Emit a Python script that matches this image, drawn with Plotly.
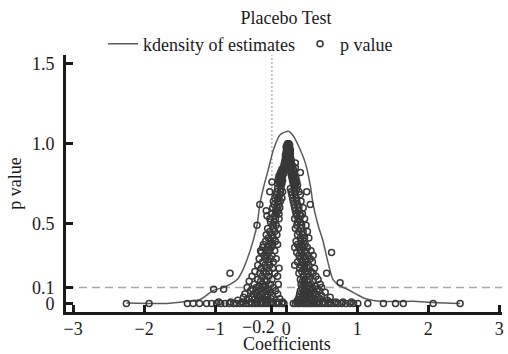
import plotly.graph_objects as go

# ---- kernel density curve (scaled to p-value axis)
curve_x = [-2.25, -1.93, -1.68, -1.39, -1.21, -1.03, -0.89, -0.79, -0.69, -0.62, -0.55,
           -0.46, -0.41, -0.37, -0.32, -0.25, -0.18, -0.085, 0.03, 0.10, 0.17, 0.27, 0.34,
           0.38, 0.45, 0.52, 0.58, 0.66, 0.76, 0.87, 1.0, 1.11, 1.23, 1.51, 1.79, 2.07, 2.45]
curve_y = [0.003, 0.0, 0.0, 0.014, 0.025, 0.081, 0.10, 0.12, 0.15, 0.20, 0.275,
           0.40, 0.49, 0.62, 0.725, 0.84, 0.96, 1.056, 1.078, 1.05, 0.99, 0.88, 0.74,
           0.62, 0.49, 0.39, 0.275, 0.15, 0.11, 0.088, 0.056, 0.031, 0.019, 0.012, 0.014, 0.006, 0.0]

# ---- placebo estimates: rows of (p value, coefficients)
point_rows = [
    (1.00, [0.02, 0.03, 0.04]),
    (0.99, [0.01, 0.03, 0.05]),
    (0.98, [0.02, 0.04, 0.00]),
    (0.97, [0.03, 0.05, 0.01]),
    (0.96, [0.02, 0.04, 0.06]),
    (0.95, [0.00, 0.03, 0.05]),
    (0.94, [0.01, 0.04, 0.06]),
    (0.93, [0.02, -0.01, 0.05]),
    (0.92, [0.00, 0.03, 0.06]),
    (0.91, [-0.01, 0.02, 0.05]),
    (0.90, [0.00, 0.04, 0.07]),
    (0.89, [-0.02, 0.02, 0.06]),
    (0.88, [-0.01, 0.03, 0.07, 0.13]),
    (0.87, [-0.03, 0.01, 0.05, 0.08]),
    (0.86, [-0.02, 0.04, 0.09]),
    (0.85, [-0.04, 0.00, 0.08, 0.13]),
    (0.84, [-0.06, -0.02, 0.07, 0.10]),
    (0.83, [-0.05, 0.06, 0.11]),
    (0.82, [-0.08, -0.03, 0.08, 0.20]),
    (0.81, [-0.07, -0.04, 0.07, 0.12]),
    (0.80, [-0.10, -0.05, 0.09, 0.11]),
    (0.79, [-0.08, 0.08, 0.13]),
    (0.78, [-0.11, -0.06, 0.10, 0.14]),
    (0.77, [-0.09, -0.05, 0.09, 0.12]),
    (0.76, [-0.20, -0.10, -0.07, 0.11, 0.15]),
    (0.75, [-0.12, -0.06, 0.10, 0.13]),
    (0.74, [-0.08, 0.12, 0.16]),
    (0.72, [-0.12, -0.07, 0.06, 0.11, 0.15]),
    (0.70, [-0.23, -0.13, -0.08, -0.05, 0.07, 0.12, 0.18, 0.29]),
    (0.68, [-0.14, -0.09, 0.08, 0.13, 0.20]),
    (0.66, [-0.16, -0.11, -0.06, 0.09, 0.14]),
    (0.64, [-0.18, -0.12, -0.08, 0.10, 0.15, 0.21]),
    (0.62, [-0.37, -0.17, -0.10, 0.11, 0.16, 0.34]),
    (0.60, [-0.19, -0.13, -0.09, 0.12, 0.18, 0.24]),
    (0.58, [-0.28, -0.15, -0.11, 0.13, 0.17]),
    (0.56, [-0.20, -0.14, -0.10, 0.14, 0.19, 0.23]),
    (0.55, [-0.27, -0.16, 0.15, 0.21]),
    (0.53, [-0.23, -0.15, -0.10, 0.12, 0.18, 0.26]),
    (0.51, [-0.22, -0.17, 0.16, 0.20]),
    (0.49, [-0.41, -0.19, -0.14, 0.15, 0.22, 0.28]),
    (0.47, [-0.26, -0.18, -0.11, 0.13, 0.21]),
    (0.45, [-0.23, -0.16, 0.18, 0.24, 0.30]),
    (0.43, [-0.28, -0.20, -0.13, 0.16, 0.23]),
    (0.41, [-0.25, -0.18, 0.20, 0.26, 0.32]),
    (0.39, [-0.29, -0.22, -0.15, 0.14, 0.21, 0.25]),
    (0.37, [-0.32, -0.24, -0.19, -0.12, 0.16, 0.22, 0.27]),
    (0.35, [-0.33, -0.26, -0.21, 0.12, 0.18, 0.24, 0.30]),
    (0.33, [-0.36, -0.28, -0.23, -0.16, 0.20, 0.26, 0.35]),
    (0.32, [-0.35, -0.25, 0.15, 0.22, 0.28, 0.64]),
    (0.30, [-0.31, -0.27, -0.20, 0.18, 0.24, 0.31, 0.38]),
    (0.28, [-0.38, -0.29, -0.22, -0.14, 0.20, 0.27, 0.34]),
    (0.26, [-0.33, -0.25, -0.18, 0.16, 0.23, 0.29, 0.37]),
    (0.24, [-0.40, -0.30, -0.23, 0.12, 0.21, 0.26, 0.32]),
    (0.22, [-0.35, -0.27, -0.19, -0.10, 0.19, 0.25, 0.30, 0.40]),
    (0.20, [-0.44, -0.32, -0.24, 0.22, 0.28, 0.35]),
    (0.19, [-0.79, -0.37, -0.28, -0.16, 0.18, 0.31, 0.38, 0.57]),
    (0.17, [-0.48, -0.34, -0.25, -0.12, 0.24, 0.29, 0.42]),
    (0.15, [-0.40, -0.30, -0.20, 0.20, 0.26, 0.33, 0.45]),
    (0.14, [-0.52, -0.36, -0.27, 0.23, 0.30, 0.38]),
    (0.13, [0.76]),
    (0.12, [-0.45, -0.33, -0.22, -0.11, 0.21, 0.27, 0.35, 0.48]),
    (0.11, [-0.38, -0.29, 0.25, 0.31, 0.41]),
    (0.10, [-0.55, -0.42, -0.31, -0.18, 0.22, 0.29, 0.37, 0.50]),
    (0.09, [-1.02, -0.88, -0.47, -0.36, -0.25, 0.26, 0.33, 0.44]),
    (0.08, [-0.50, -0.39, -0.28, -0.15, 0.20, 0.28, 0.36, 0.47]),
    (0.07, [-0.43, -0.33, -0.22, 0.24, 0.31, 0.39, 0.55]),
    (0.06, [-0.58, -0.46, -0.35, -0.26, -0.12, 0.19, 0.27, 0.34, 0.42]),
    (0.05, [-0.41, -0.30, -0.19, 0.23, 0.30, 0.38, 0.50]),
    (0.04, [-0.60, -0.48, -0.37, -0.27, 0.18, 0.26, 0.33, 0.45, 0.62]),
    (0.03, [-0.52, -0.44, -0.32, -0.21, -0.09, 0.21, 0.29, 0.36, 0.48]),
    (0.02, [-0.68, -0.55, -0.40, -0.30, 0.16, 0.24, 0.33, 0.41, 0.58]),
    (0.01, [-0.95, -0.78, -0.62, -0.50, -0.42, -0.35, -0.28, -0.20, -0.12, -0.05,
            0.15, 0.22, 0.29, 0.38, 0.45, 0.53, 0.61, 0.70, 0.80, 0.92]),
    (0.00, [-2.25, -1.93, -1.39, -1.31, -1.22, -1.12, -1.05, -0.98, -0.92, -0.86, -0.80,
            -0.74, -0.70, -0.65, -0.60, -0.56, -0.52, -0.48, -0.44, -0.40, -0.36, -0.33,
            -0.29, -0.26, -0.22, -0.18, -0.14, -0.10, -0.06, -0.03, 0.10, 0.13, 0.17,
            0.20, 0.24, 0.27, 0.30, 0.33, 0.36, 0.40, 0.43, 0.47, 0.51, 0.55, 0.59,
            0.63, 0.68, 0.73, 0.78, 0.84, 0.90, 0.95, 1.01, 1.15, 1.37, 1.54, 1.65,
            2.07, 2.45]),
]
coef = [c for p, cs in point_rows for c in cs]
pval = [p for p, cs in point_rows for c in cs]

x_tickvals = [-3, -2, -1, -0.2, 0, 1, 2, 3]
x_ticktext = ["\u22123", "\u22122", "\u22121", "", "0", "1", "2", "3"]
true_estimate = -0.2
true_estimate_label = "\u22120.2"
y_tickvals = [0, 0.1, 0.5, 1.0, 1.5]
y_ticktext = ["0", "0.1", "0.5", "1.0", "1.5"]
p_threshold = 0.1

FONT = "Liberation Serif"
INK = "#1a1a1a"

fig = go.Figure()
fig.add_trace(go.Scatter(
    x=curve_x, y=curve_y, mode="lines", name="kdensity of estimates",
    line=dict(color="#5a5a5a", width=1.5, shape="spline", smoothing=0.6),
))
fig.add_trace(go.Scatter(
    x=coef, y=pval, mode="markers", name="p value",
    marker=dict(symbol="circle-open", size=6, color="#383838",
                line=dict(width=1.5, color="#383838")),
))

fig.add_shape(type="line", xref="paper", yref="y", x0=0, x1=1, y0=p_threshold, y1=p_threshold,
              line=dict(color="#a8a8a8", width=1.5, dash="8px,5px"), layer="below")
fig.add_shape(type="line", xref="x", yref="paper", x0=true_estimate, x1=true_estimate, y0=0, y1=1,
              line=dict(color="#9a9a9a", width=1, dash="2px,2px"), layer="below")

# tick label of the true estimate, placed to the left of its tick as in the original
fig.add_annotation(x=true_estimate, xref="x", y=0, yref="paper", text=true_estimate_label,
                   showarrow=False, xanchor="right", yanchor="top", yshift=-3, xshift=5,
                   font=dict(family=FONT, size=18, color=INK))
# x axis title
fig.add_annotation(x=0.506, xref="paper", y=0, yref="paper", text="Coefficients",
                   showarrow=False, xanchor="center", yanchor="middle", yshift=-31.5,
                   font=dict(family=FONT, size=18, color=INK))

fig.update_layout(
    width=508, height=354,
    margin=dict(l=66, r=6, t=55, b=41.5, autoexpand=False),
    paper_bgcolor="white", plot_bgcolor="white",
    font=dict(family=FONT, size=18, color=INK),
    title=dict(text="Placebo Test", x=0.563, xanchor="center", y=0.95, yanchor="middle",
               font=dict(family=FONT, size=18, color=INK)),
    showlegend=True,
    legend=dict(orientation="h", x=0.085, xanchor="left", y=1.115, yanchor="top",
                font=dict(family=FONT, size=18, color=INK), bgcolor="rgba(0,0,0,0)",
                itemwidth=30, tracegroupgap=0),
    xaxis=dict(range=[-3.1, 3.04], tickvals=x_tickvals, ticktext=x_ticktext, tickangle=0,
               automargin=False,
               showgrid=False, zeroline=False, showline=True, linewidth=3, linecolor=INK,
               ticks="inside", ticklen=7, tickwidth=3, tickcolor=INK,
               tickfont=dict(family=FONT, size=18), ticklabelstandoff=-2),
    yaxis=dict(range=[-0.053, 1.555], tickvals=y_tickvals, ticktext=y_ticktext,
               automargin=False,
               showgrid=False, zeroline=False, showline=True, linewidth=3, linecolor=INK,
               ticks="inside", ticklen=7, tickwidth=3, tickcolor=INK,
               tickfont=dict(family=FONT, size=18), ticklabelstandoff=5,
               title=dict(text="p value", font=dict(family=FONT, size=18), standoff=6)),
)

fig.write_html("out.html")
